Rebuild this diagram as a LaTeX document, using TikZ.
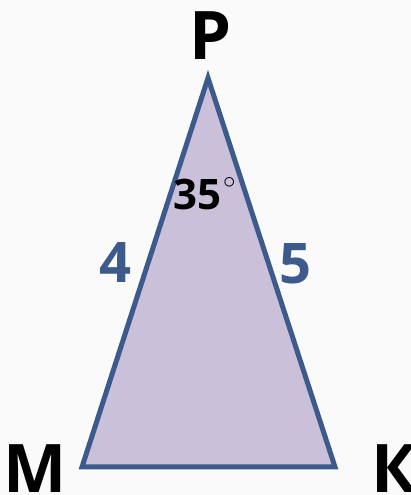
\documentclass[tikz,border=0pt]{standalone}
\usepackage{fontspec}
\setmainfont{Open Sans}
\usepackage{tikz}
\usetikzlibrary{positioning}
\definecolor{sideblue}{RGB}{60, 90, 140}
\definecolor{lilacfill}{RGB}{203, 192, 218}
\definecolor{paper}{RGB}{250, 250, 250}

\begin{document}
\begin{tikzpicture}[x=1pt, y=1pt,
    vertexlabel/.style={font=\fontsize{67}{67}\selectfont\bfseries, anchor=base, inner sep=0pt},
    sidelabel/.style={font=\fontsize{56}{56}\selectfont\bfseries, text=sideblue, anchor=base, inner sep=0pt},
    anglelabel/.style={font=\fontsize{42}{42}\selectfont\bfseries, anchor=base west, inner sep=0pt}]
    \fill[paper] (0,0) rectangle (411,495);
    \useasboundingbox (0,0) rectangle (411,495);

    \coordinate (P) at (208,417);
    \coordinate (M) at (82,28);
    \coordinate (K) at (335,28);
    \draw[fill=lilacfill, draw=sideblue, line width=5pt] (P) -- (M) -- (K) -- cycle;

    \node[vertexlabel] (nameP) at (211,435) {Р};
    \node[vertexlabel] (nameM) at (35,2) {М};
    \node[vertexlabel] (nameK) at (394,2) {К};

    \node[sidelabel] (sidePM) at (115,212) {4};
    \node[sidelabel] (sidePK) at (295,211) {5};
    \node[anglelabel] (angleP) at (173,285) {35\hspace{2pt}\raisebox{21pt}{\fontsize{38}{38}\selectfont$\circ$}};
\end{tikzpicture}
\end{document}
